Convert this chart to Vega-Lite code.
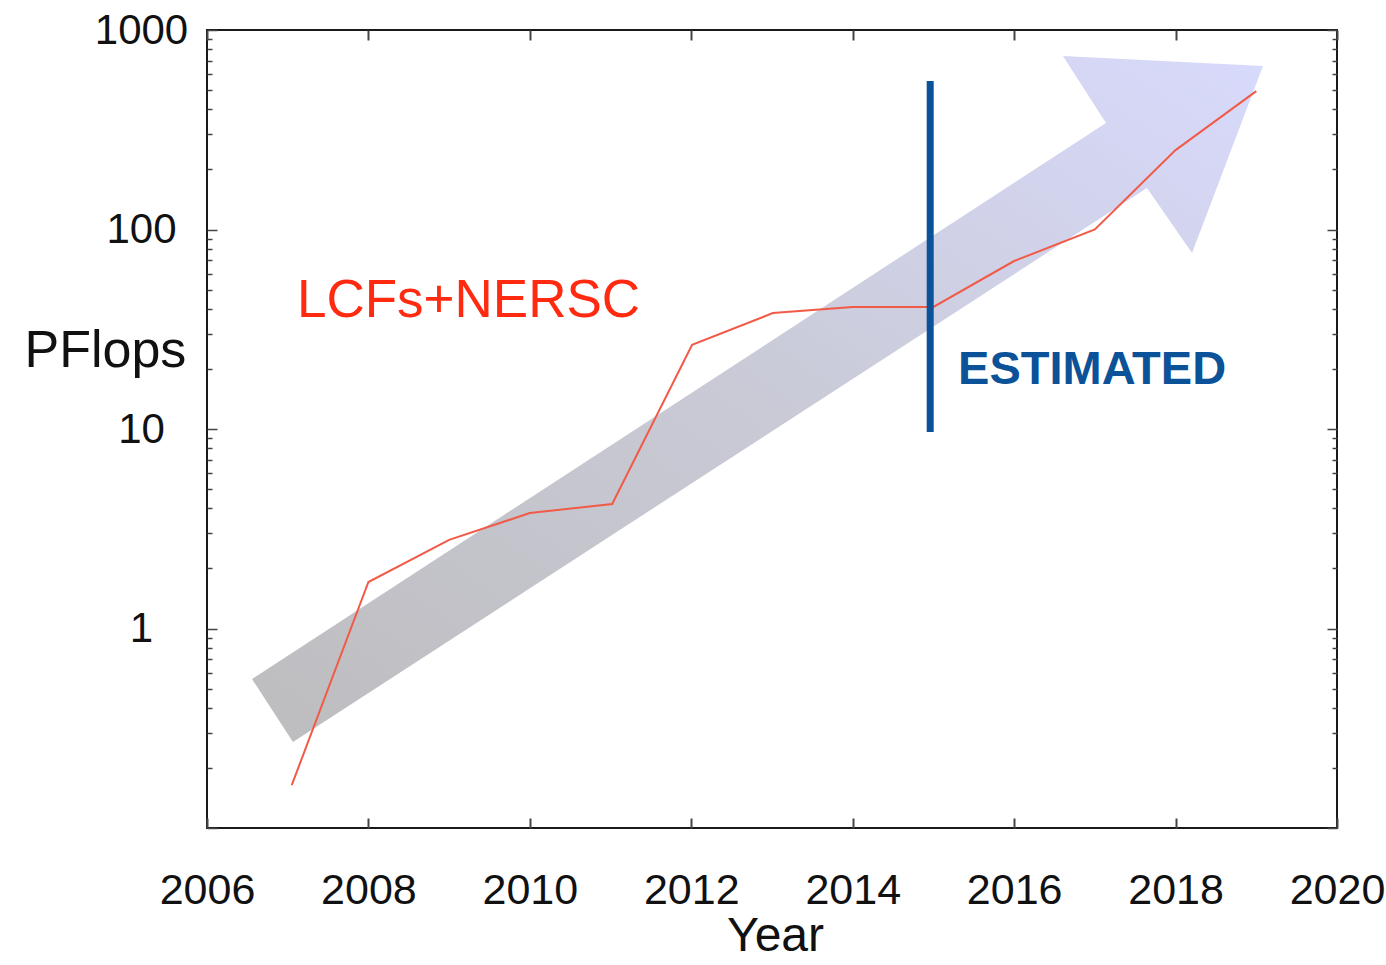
{
  "$schema": "https://vega.github.io/schema/vega-lite/v6.json",
  "width": 1130,
  "height": 798,
  "autosize": "none",
  "padding": {"left": 207, "top": 30, "right": 49, "bottom": 137},
  "background": "white",
  "config": {
    "font": "Liberation Sans",
    "view": {"stroke": "#1a1a1a", "strokeWidth": 2}
  },
  "datasets": {
    "arrow": [
      {"i": 1, "year": 2006.558, "v": 0.558},
      {"i": 2, "year": 2007.065, "v": 0.270},
      {"i": 3, "year": 2017.646, "v": 161.5},
      {"i": 4, "year": 2018.204, "v": 76.2},
      {"i": 5, "year": 2019.083, "v": 660},
      {"i": 6, "year": 2016.605, "v": 740},
      {"i": 7, "year": 2017.138, "v": 342},
      {"i": 8, "year": 2006.558, "v": 0.558}
    ],
    "flops": [
      {"year": 2007.05, "pflops": 0.164},
      {"year": 2008, "pflops": 1.71},
      {"year": 2009, "pflops": 2.78},
      {"year": 2010, "pflops": 3.79},
      {"year": 2011.02, "pflops": 4.21},
      {"year": 2012.01, "pflops": 26.4},
      {"year": 2013.01, "pflops": 38.1},
      {"year": 2014, "pflops": 40.9},
      {"year": 2015, "pflops": 40.9},
      {"year": 2016, "pflops": 69.5},
      {"year": 2017, "pflops": 100},
      {"year": 2018, "pflops": 250},
      {"year": 2019, "pflops": 494}
    ],
    "marker": [{"year": 2014.96, "low": 9.66, "high": 555}],
    "labels": [
      {"year": 2007.115, "v": 36.4, "text": "LCFs+NERSC", "kind": "series"},
      {"year": 2015.305, "v": 16.8, "text": "ESTIMATED", "kind": "estimate"}
    ]
  },
  "layer": [
    {
      "data": {"name": "arrow"},
      "mark": {
        "type": "line",
        "strokeWidth": 0,
        "fill": {
          "gradient": "linear",
          "x1": 0, "y1": 1, "x2": 1, "y2": 0,
          "stops": [
            {"offset": 0, "color": "#bdbdbf"},
            {"offset": 0.5, "color": "#c9cad6"},
            {"offset": 1, "color": "#d8dafc"}
          ]
        }
      },
      "encoding": {
        "order": {"field": "i", "type": "quantitative"},
        "x": {
          "field": "year", "type": "quantitative",
          "scale": {"domain": [2006, 2020], "nice": false, "zero": false},
          "axis": {
            "orient": "bottom",
            "values": [2006, 2008, 2010, 2012, 2014, 2016, 2018, 2020],
            "format": "d",
            "domain": false, "grid": false,
            "tickSize": -10, "tickWidth": 2, "tickColor": "#444",
            "labelFontSize": 43, "labelColor": "#111",
            "labelPadding": 85, "labelBaseline": "alphabetic",
            "labelFlush": false, "labelOverlap": false,
            "title": "Year", "titleFontSize": 48, "titleFontWeight": "normal",
            "titleColor": "#111", "titleBaseline": "alphabetic",
            "titleX": 568, "titleY": 122
          }
        },
        "y": {
          "field": "v", "type": "quantitative",
          "scale": {"type": "log", "domain": [0.1, 1000], "nice": false},
          "axis": {
            "orient": "left",
            "values": [0.1, 0.2, 0.3, 0.4, 0.5, 0.6, 0.7, 0.8, 0.9, 1, 2, 3, 4, 5, 6, 7, 8, 9, 10, 20, 30, 40, 50, 60, 70, 80, 90, 100, 200, 300, 400, 500, 600, 700, 800, 900, 1000],
            "domain": false, "grid": false,
            "tickSize": {"condition": {"test": "indexof([0.1,1,10,100,1000], datum.value) >= 0", "value": -10}, "value": -5},
            "tickWidth": 1.5, "tickColor": "#444",
            "labelExpr": "indexof([1,10,100,1000], datum.value) >= 0 ? format(datum.value, 'd') : ''",
            "labelAlign": "center", "labelBaseline": "middle",
            "labelPadding": 76, "labelFontSize": 42, "labelColor": "#111",
            "labelOverlap": false, "labelFlush": false,
            "title": "PFlops", "titleAngle": 0, "titleAlign": "left",
            "titleBaseline": "alphabetic", "titleX": -183, "titleY": 336,
            "titleFontSize": 52, "titleFontWeight": "normal", "titleColor": "#111"
          }
        }
      }
    },
    {
      "data": {"name": "flops"},
      "mark": {"type": "line", "color": "#f25a48", "strokeWidth": 2},
      "encoding": {
        "x": {
          "field": "year", "type": "quantitative",
          "scale": {"domain": [2006, 2020], "nice": false, "zero": false},
          "axis": {
            "orient": "top",
            "values": [2006, 2008, 2010, 2012, 2014, 2016, 2018, 2020],
            "domain": false, "grid": false, "labels": false, "title": null,
            "tickSize": -10, "tickWidth": 2, "tickColor": "#444"
          }
        },
        "y": {
          "field": "pflops", "type": "quantitative",
          "scale": {"type": "log", "domain": [0.1, 1000], "nice": false},
          "axis": {
            "orient": "right",
            "values": [0.1, 0.2, 0.3, 0.4, 0.5, 0.6, 0.7, 0.8, 0.9, 1, 2, 3, 4, 5, 6, 7, 8, 9, 10, 20, 30, 40, 50, 60, 70, 80, 90, 100, 200, 300, 400, 500, 600, 700, 800, 900, 1000],
            "domain": false, "grid": false, "labels": false, "title": null,
            "tickSize": {"condition": {"test": "indexof([0.1,1,10,100,1000], datum.value) >= 0", "value": -10}, "value": -5},
            "tickWidth": 1.5, "tickColor": "#444"
          }
        }
      }
    },
    {
      "data": {"name": "marker"},
      "mark": {"type": "rule", "color": "#0b5298", "strokeWidth": 7},
      "encoding": {
        "x": {"field": "year", "type": "quantitative", "axis": null},
        "y": {"field": "low", "type": "quantitative", "axis": null},
        "y2": {"field": "high"}
      }
    },
    {
      "data": {"name": "labels"},
      "transform": [{"filter": "datum.kind == 'series'"}],
      "mark": {"type": "text", "align": "left", "baseline": "alphabetic", "fontSize": 53, "color": "#ff2a10"},
      "encoding": {
        "x": {"field": "year", "type": "quantitative", "axis": null},
        "y": {"field": "v", "type": "quantitative", "axis": null},
        "text": {"field": "text"}
      }
    },
    {
      "data": {"name": "labels"},
      "transform": [{"filter": "datum.kind == 'estimate'"}],
      "mark": {"type": "text", "align": "left", "baseline": "alphabetic", "fontSize": 47, "fontWeight": "bold", "color": "#0b5298"},
      "encoding": {
        "x": {"field": "year", "type": "quantitative", "axis": null},
        "y": {"field": "v", "type": "quantitative", "axis": null},
        "text": {"field": "text"}
      }
    }
  ],
  "resolve": {"axis": {"x": "independent", "y": "independent"}}
}
